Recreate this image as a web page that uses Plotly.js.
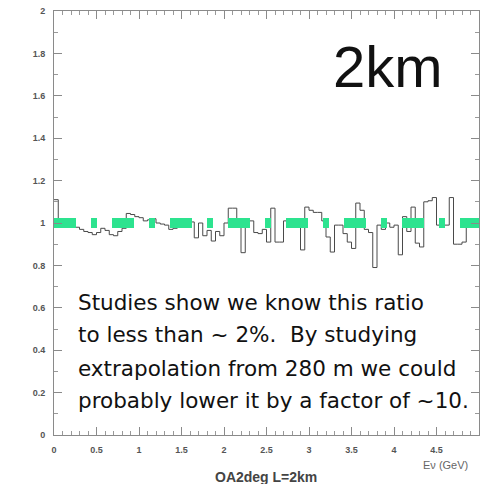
<!DOCTYPE html>
<html>
<head>
<meta charset="utf-8">
<script src="https://cdn.plot.ly/plotly-3.0.1.min.js"></script>
<style>html,body{margin:0;padding:0;background:#fff;}#chart{width:480px;height:484px;}</style>
</head>
<body>
<div id="chart"></div>
<script>
// Histogram: ratio per energy bin (bin width 0.05 GeV, 0 to 5 GeV)
const binWidthGeV = 0.05;
const ratio = [
  1.11, 1.00, 1.00, 1.00, 0.99, 0.98, 0.97, 0.96, 0.955, 0.945,
  0.955, 0.975, 0.965, 0.945, 0.94, 0.96, 0.975, 1.045, 1.04, 1.03,
  1.025, 1.01, 1.015, 1.02, 1.00, 0.995, 0.99, 0.97, 0.975, 0.99,
  0.995, 1.00, 1.005, 0.93, 1.00, 0.94, 0.965, 0.915, 0.96, 0.94,
  1.00, 1.07, 1.07, 1.01, 0.86, 1.01, 1.01, 0.955, 0.95, 0.97,
  0.91, 1.07, 0.91, 0.91, 1.01, 1.01, 1.00, 1.015, 0.873, 1.075,
  1.06, 1.05, 1.05, 1.01, 0.934, 0.863, 0.99, 0.99, 0.95, 0.91,
  0.88, 1.094, 1.06, 0.97, 0.955, 0.79, 0.99, 0.97, 1.00, 0.98,
  0.99, 0.85, 1.03, 0.96, 1.075, 0.905, 0.887, 1.10, 1.105, 1.12,
  0.99, 0.99, 0.99, 1.12, 0.90, 0.90, 0.91, 1.00, 1.00, 1.00
];
// Reference line (ratio = 1)
const refX = [0, 5];
const refY = [1, 1];
// Axis ticks
const xTicks = [0, 0.5, 1, 1.5, 2, 2.5, 3, 3.5, 4, 4.5, 5];
const yTicks = [0, 0.2, 0.4, 0.6, 0.8, 1, 1.2, 1.4, 1.6, 1.8, 2];
// Texts
const bigLabel = "2km";
const noteLines = [
  "Studies show we know this ratio",
  "to less than ~ 2%.  By studying",
  "extrapolation from 280 m we could",
  "probably lower it by a factor of ~10."
];
const noteX = 0.26;
const noteY = [0.627, 0.472, 0.316, 0.165];
const xLabel = "E\u03bd (GeV)";
const bottomTitle = "OA2deg L=2km";

const histX = ratio.map((v, i) => +(i * binWidthGeV).toFixed(4));
histX.push(5);
const histY = ratio.slice();
histY.push(ratio[ratio.length - 1]);

const traces = [
  {
    x: histX, y: histY, type: 'scatter', mode: 'lines',
    line: {shape: 'hv', color: '#4a4a4a', width: 1},
    hoverinfo: 'skip', showlegend: false
  },
  {
    x: refX, y: refY, type: 'scatter', mode: 'lines',
    line: {color: '#2de38f', width: 10, dash: '22px,15px,6px,15px'},
    hoverinfo: 'skip', showlegend: false
  }
];

const axisCommon = {
  showgrid: false, zeroline: false, showline: true, linecolor: '#8a8a8a', linewidth: 1,
  mirror: 'ticks', ticks: 'inside', ticklen: 8, tickcolor: '#8a8a8a', tickwidth: 1,
  tickfont: {family: 'Liberation Sans, Arial, sans-serif', size: 9, color: '#555', weight: 'bold'},
  fixedrange: true
};

const annotations = [
  {x: 3.93, y: 1.74, xref: 'x', yref: 'y', text: bigLabel, showarrow: false,
   font: {family: 'Liberation Sans, Arial, sans-serif', size: 58, color: '#111'}, xanchor: 'center', yanchor: 'middle'},
  {x: 0.922, y: -0.071, xref: 'paper', yref: 'paper', text: xLabel, showarrow: false,
   font: {family: 'Liberation Sans, Arial, sans-serif', size: 11, color: '#666'}, xanchor: 'center', yanchor: 'middle'},
  {x: 0.499, y: -0.099, xref: 'paper', yref: 'paper', text: bottomTitle, showarrow: false,
   font: {family: 'Liberation Sans, Arial, sans-serif', size: 14, color: '#444', weight: 'bold'}, xanchor: 'center', yanchor: 'middle'}
];
noteLines.forEach((t, i) => {
  annotations.push({x: noteX, y: noteY[i], xref: 'x', yref: 'y', text: t, showarrow: false,
    font: {family: 'DejaVu Sans, sans-serif', size: 21.5, color: '#111'}, xanchor: 'left', yanchor: 'middle'});
});

const layout = {
  width: 480, height: 484,
  margin: {l: 54, r: 1, t: 11, b: 49},
  paper_bgcolor: '#fff', plot_bgcolor: '#fff',
  xaxis: Object.assign({}, axisCommon, {
    range: [0, 5], tickvals: xTicks, ticktext: xTicks.map(String), ticklabelstandoff: 6,
    minor: {dtick: 0.1, ticks: 'inside', ticklen: 4, tickcolor: '#999'}
  }),
  yaxis: Object.assign({}, axisCommon, {
    range: [0, 2], tickvals: yTicks, ticktext: yTicks.map(String), ticklabelstandoff: 6,
    minor: {dtick: 0.1, ticks: 'inside', ticklen: 4, tickcolor: '#999'}
  }),
  annotations: annotations,
  showlegend: false
};

Plotly.newPlot('chart', traces, layout, {displayModeBar: false, staticPlot: true});
</script>
</body>
</html>
